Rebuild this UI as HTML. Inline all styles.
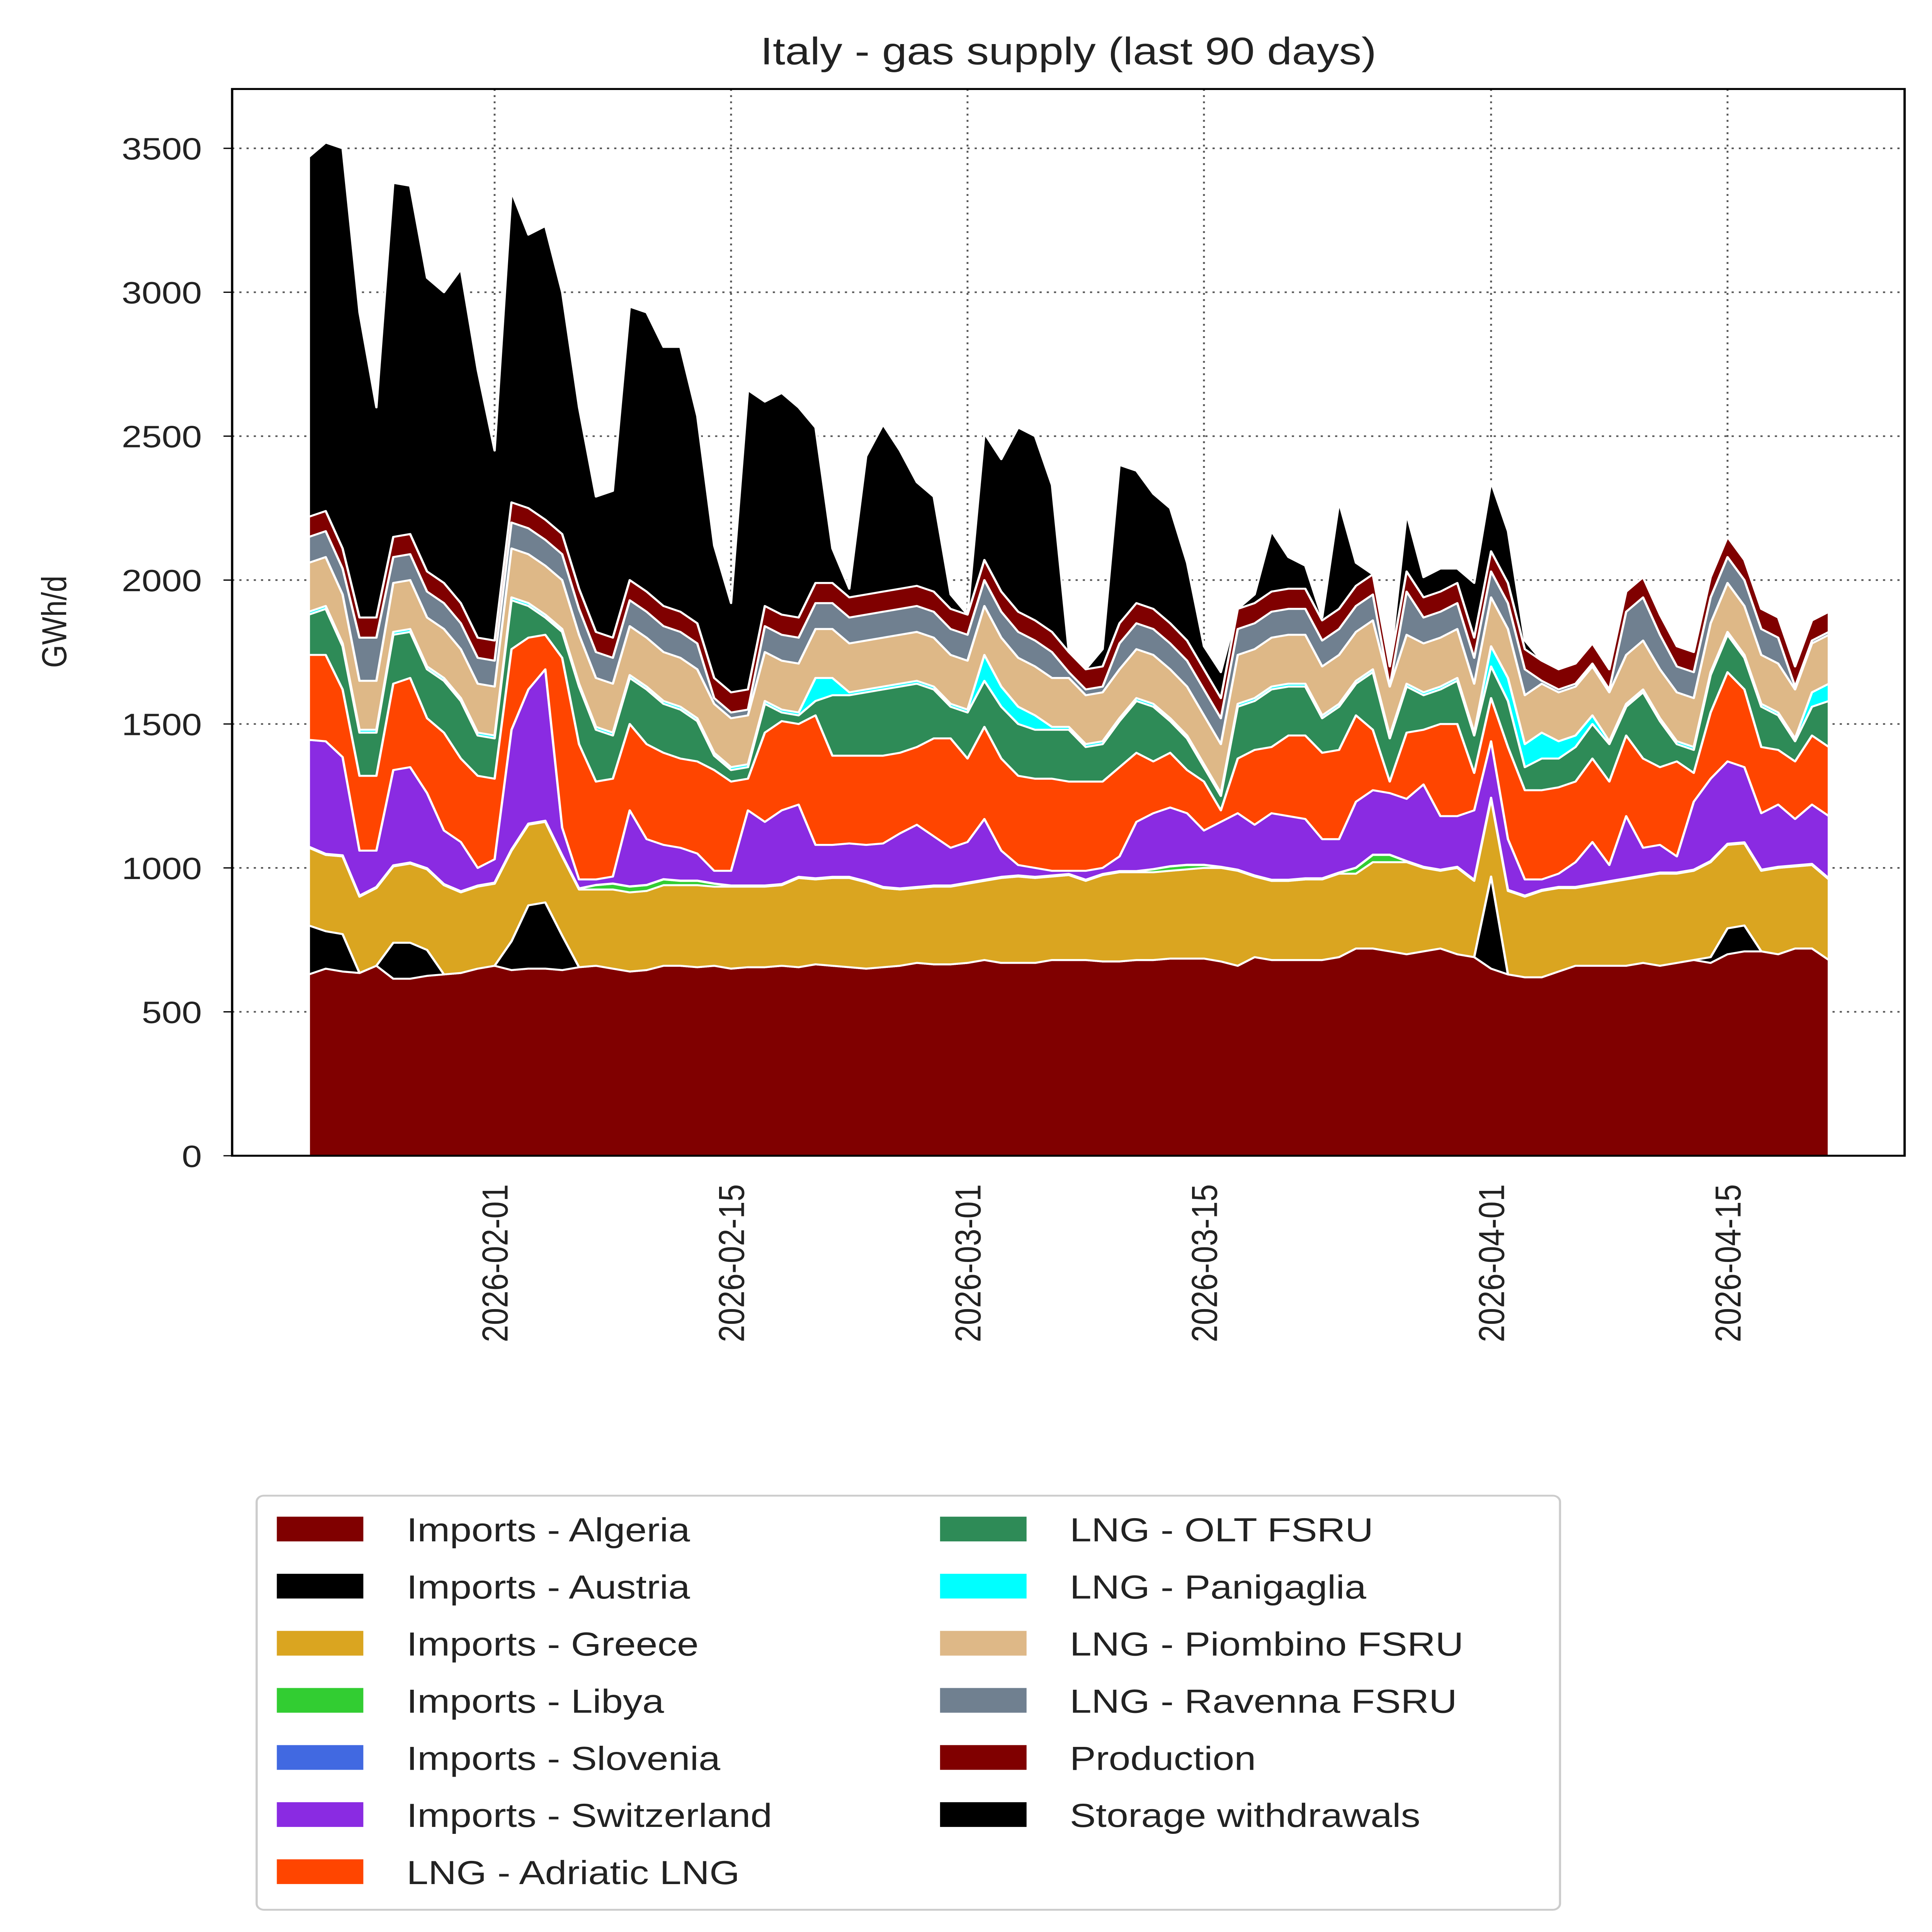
<!DOCTYPE html>
<html><head><meta charset="utf-8"><style>
html,body{margin:0;padding:0;background:#fff;width:100%;height:100%;overflow:hidden;}
svg{display:block;position:absolute;left:0;top:0;width:100vw;height:100vh;font-family:"Liberation Sans",sans-serif;}
</style></head><body>
<svg id="chart" viewBox="0 0 1340 1563" preserveAspectRatio="none" xmlns="http://www.w3.org/2000/svg">
<rect x="0" y="0" width="1340" height="1563" fill="#fff"/>
<text x="741" y="52" text-anchor="middle" font-size="31" fill="#222">Italy - gas supply (last 90 days)</text>
<g id="grid"></g>
<g id="areas"></g>
<rect x="161" y="72" width="1160" height="863" fill="none" stroke="#000" stroke-width="1.6"/>
<g id="yticks"></g>
<g id="xticks"></g>
<text x="0" y="0" transform="translate(46,503) rotate(-90)" text-anchor="middle" font-size="24" fill="#222">GWh/d</text>
<g id="legend"></g>
</svg>
<script>
const startDate = "2026-01-21";
const production = [630,650,640,635,660,615,615,625,630,635,650,
660,645,650,650,645,655,660,650,640,645,660,660,655,660,
650,655,655,660,655,665,660,655,650,655,660,670,665,665,
670,680,670,670,670,680,680,680,675,675,680,680,685,685,
685,675,660,690,680,680,680,680,690,720,720,710,700,710,720,700,690,
650,630,620,620,640,660,660,660,660,670,660,670,680,670,700,710,710,700,720,720,680];
const austria = [170,130,130,0,0,125,125,90,0,0,0,
0,100,220,230,120,0,0,0,0,0,0,0,0,0,
0,0,0,0,0,0,0,0,0,0,0,0,0,0,
0,0,0,0,0,0,0,0,0,0,0,0,0,0,
0,0,0,0,0,0,0,0,0,0,0,0,0,0,0,0,0,
320,0,0,0,0,0,0,0,0,0,0,0,0,20,90,90,0,0,0,0,0];
const greece = [270,265,270,265,270,265,275,280,310,280,285,
285,315,280,280,275,270,265,275,275,275,280,280,285,275,
285,280,280,280,310,295,305,310,300,275,265,260,270,270,
275,275,295,300,295,290,295,275,300,310,305,305,305,310,
315,325,330,280,275,275,280,280,290,260,300,310,320,290,270,300,265,
270,290,280,300,290,270,280,290,300,300,320,310,310,330,290,285,280,300,285,290,280];
const libya = [3,3,3,3,3,3,3,3,3,3,3,
3,3,3,3,3,3,15,20,20,20,20,15,15,10,
3,3,3,3,3,3,3,3,3,3,3,3,3,3,
3,3,3,3,3,3,3,3,3,3,3,10,15,15,
10,3,3,3,3,3,3,3,3,20,25,25,3,3,3,3,3,
3,3,3,3,3,3,3,3,3,3,3,3,3,3,3,3,3,3,3,3,3];
const slovenia = [1,1,1,1,1,1,1,1,1,1,1,
1,1,1,1,1,1,1,1,1,1,1,1,1,1,
1,1,1,1,1,1,1,1,1,1,1,1,1,1,
1,1,1,1,1,1,1,1,1,1,1,1,1,1,
1,1,1,1,1,1,1,1,1,1,1,1,1,1,1,1,1,
1,1,1,1,1,1,1,1,1,1,1,1,1,1,1,1,1,1,1,1,1];
const switzerland = [371,391,341,156,126,331,331,261,186,171,61,
81,416,466,526,96,31,19,24,264,159,119,114,94,44,
51,261,221,256,251,116,111,116,126,151,191,216,171,131,
141,211,91,36,31,16,11,31,21,51,171,194,204,179,
119,156,196,176,231,221,206,136,116,229,224,214,216,286,186,176,241,
196,176,56,36,46,86,146,56,216,96,96,56,236,286,286,261,196,216,161,206,216];
const adriatic = [295,300,235,260,260,300,310,260,340,290,320,
280,280,180,120,590,470,340,340,300,330,320,310,320,350,
310,110,310,310,280,450,310,305,310,305,280,270,340,380,
290,320,320,310,310,320,310,310,300,310,240,180,190,150,
170,40,190,260,230,280,290,300,310,300,210,40,230,190,320,320,130,
150,320,310,310,300,280,290,290,280,310,270,330,100,230,310,270,230,190,200,240,240];
const olt = [140,160,150,150,150,170,160,170,180,200,140,
140,170,110,60,90,200,180,150,160,190,170,170,140,50,
40,40,100,30,30,50,210,210,220,230,230,220,170,110,
160,160,180,180,170,170,180,120,130,160,180,190,110,110,
50,50,180,170,200,170,170,120,150,110,200,150,160,120,120,150,130,
110,160,80,110,100,120,120,130,100,230,160,60,80,130,130,110,140,120,70,100,160];
const panigaglia = [10,10,10,10,10,10,10,10,10,10,10,
10,10,10,10,10,10,10,10,10,10,10,10,10,10,
10,10,10,10,10,80,60,10,10,10,10,10,10,10,
10,90,70,60,50,10,10,10,10,10,10,10,10,10,
10,10,10,10,10,10,10,10,10,10,10,10,10,10,10,10,10,
70,80,80,90,60,40,30,10,10,10,10,10,10,10,10,10,10,10,10,50,60];
const piombino = [170,170,170,170,170,170,170,170,170,170,170,
170,170,170,170,170,170,170,170,170,170,170,170,170,170,
170,170,170,170,170,170,170,170,170,170,170,170,170,170,
170,170,170,170,170,170,170,170,170,170,170,170,170,170,
170,170,170,170,170,170,170,170,170,170,170,170,170,170,170,170,170,
170,170,170,170,170,170,170,170,170,170,170,170,170,170,170,170,170,170,170,170,170];
const ravenna = [90,90,90,150,150,90,90,90,90,90,90,
90,90,90,90,90,90,90,90,90,90,90,90,90,20,
20,20,90,90,90,90,90,90,90,90,90,90,90,90,
90,90,90,90,90,90,20,20,20,90,90,90,90,90,
90,90,90,90,90,90,90,90,90,90,90,0,150,90,90,90,90,
90,90,90,10,10,10,10,10,150,150,120,90,90,90,90,90,90,90,10,10,10];
const algeria = [70,70,70,70,70,70,70,70,70,70,70,
70,70,70,70,70,70,70,70,70,70,70,70,70,70,
70,70,70,70,70,70,70,70,70,70,70,70,70,70,
70,70,70,70,70,70,70,70,70,70,70,70,70,70,
70,70,70,70,70,70,70,70,70,70,70,70,70,70,70,70,70,
70,70,70,70,70,70,70,70,70,70,70,70,70,70,70,70,70,70,70,70,70];
const storage = [1250,1280,1390,1060,730,1230,1210,1020,1010,1160,930,
660,1080,950,1020,840,630,470,510,950,970,900,920,720,460,
310,1040,710,770,730,540,120,30,480,580,480,360,330,50,
0,440,460,640,640,510,0,0,60,550,460,400,400,270,
80,90,0,30,210,110,80,10,370,80,0,0,200,70,80,50,190,
240,180,30,0,0,0,0,0,0,0,0,0,0,0,0,0,0,0,0,0,0];
const yTicks = [0,500,1000,1500,2000,2500,3000,3500];
const xTickLabels = ["2026-02-01","2026-02-15","2026-03-01","2026-03-15","2026-04-01","2026-04-15"];
const seriesNames = ["Production","Imports - Austria","Imports - Greece","Imports - Libya","Imports - Slovenia","Imports - Switzerland","LNG - Adriatic LNG","LNG - OLT FSRU","LNG - Panigaglia","LNG - Piombino FSRU","LNG - Ravenna FSRU","Imports - Algeria","Storage withdrawals"];
const legendNames = ["Imports - Algeria","Imports - Austria","Imports - Greece","Imports - Libya","Imports - Slovenia","Imports - Switzerland","LNG - Adriatic LNG","LNG - OLT FSRU","LNG - Panigaglia","LNG - Piombino FSRU","LNG - Ravenna FSRU","Production","Storage withdrawals"];

const NS="http://www.w3.org/2000/svg";
const colorOf={"Imports - Algeria":"#800000","Imports - Austria":"#000000","Imports - Greece":"#DAA520","Imports - Libya":"#32CD32","Imports - Slovenia":"#4169E1","Imports - Switzerland":"#8A2BE2","LNG - Adriatic LNG":"#FF4500","LNG - OLT FSRU":"#2E8B57","LNG - Panigaglia":"#00FFFF","LNG - Piombino FSRU":"#DEB887","LNG - Ravenna FSRU":"#708090","Production":"#800000","Storage withdrawals":"#000000"};
const seriesData=[production,austria,greece,libya,slovenia,switzerland,adriatic,olt,panigaglia,piombino,ravenna,algeria,storage];
const X0=161,X1=1321,Y0=935,Y1=72;
const dayMs=86400000, t0=Date.parse(startDate+"T00:00:00Z");
function xDay(d){return 214.2+d*11.714;}
function xDate(s){return xDay((Date.parse(s+"T00:00:00Z")-t0)/dayMs);}
function yVal(v){return 935-v*(815/3500);}
function mk(tag,attrs,parent){const e=document.createElementNS(NS,tag);for(const k in attrs)e.setAttribute(k,attrs[k]);parent.appendChild(e);return e;}

const grid=document.getElementById('grid');
const yt=document.getElementById('yticks');
yTicks.forEach(v=>{
  const y=yVal(v);
  if(v>0){const g=mk('line',{x1:X0,x2:X1,y1:y,y2:y,stroke:'#555','stroke-width':1.3,'stroke-dasharray':'1.5,3.5'},grid);
  
  }
  const t=mk('text',{x:140,y:y+9,'text-anchor':'end','font-size':25,fill:'#222'},yt);
  t.textContent=v;
  
  
  const tk=mk('line',{x1:X0-6,x2:X0,y1:y,y2:y,stroke:'#000','stroke-width':1},yt);
  
  
});
const xt=document.getElementById('xticks');
xTickLabels.forEach(s=>{
  const x=xDate(s);
  const g=mk('line',{x1:x,x2:x,y1:Y1,y2:Y0,stroke:'#555','stroke-width':1.3,'stroke-dasharray':'1.5,3.5'},grid);
  
  
  const t=mk('text',{x:0,y:0,transform:`translate(${x+9},${958}) rotate(-90)`,'text-anchor':'end','font-size':25,fill:'#222'},xt);
  t.textContent=s;
  
  
});

const areas=document.getElementById('areas');
const n=production.length;
let base=new Array(n).fill(0);
seriesData.forEach((arr,si)=>{
  const top=base.map((b,i)=>b+arr[i]);
  let d='M'+xDay(0)+','+yVal(top[0]);
  for(let i=1;i<n;i++) d+=' L'+xDay(i).toFixed(2)+','+yVal(top[i]).toFixed(2);
  for(let i=n-1;i>=0;i--) d+=' L'+xDay(i).toFixed(2)+','+yVal(base[i]).toFixed(2);
  d+='Z';
  const p=mk('path',{d:d,fill:colorOf[seriesNames[si]],stroke:'#fff','stroke-width':1.6,'stroke-linejoin':'round'},areas);
  
  
  base=top;
});

const lg=document.getElementById('legend');
const box=mk('rect',{x:178,y:1210,width:904,height:335,rx:5,fill:'#fff',stroke:'#ccc','stroke-width':1.5},lg);


legendNames.forEach((nm,i)=>{
  const col=i<7?0:1, row=i<7?i:i-7;
  const px=col?652:192, tx=col?742:282, cy=1237+row*46.2;
  const g=mk('g',{},lg);
  
  
  const r=mk('rect',{x:px,y:cy-10,width:60,height:20,fill:colorOf[nm]},g);
  
  
  const t=mk('text',{x:tx,y:cy+10,'font-size':27,fill:'#222'},g);
  t.textContent=nm;
  
  
});
</script>
</body></html>
